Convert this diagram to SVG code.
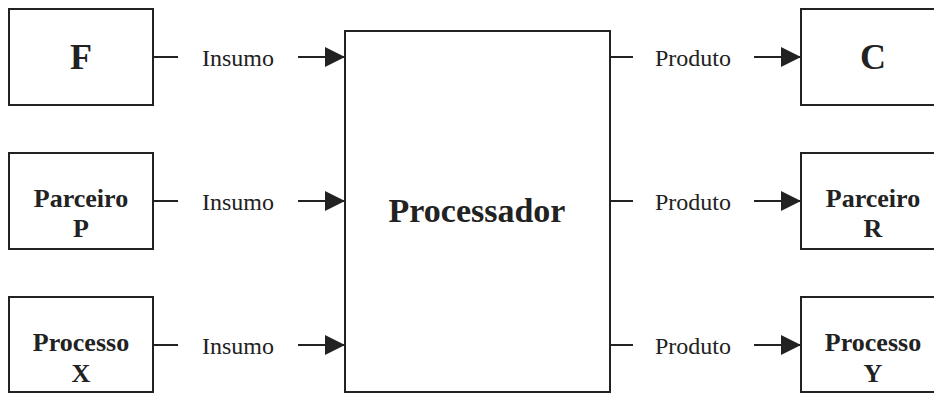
<svg xmlns="http://www.w3.org/2000/svg" width="934" height="393" viewBox="0 0 934 393">
<style>
.box{fill:#fff;stroke:#222;stroke-width:2}
.ln{stroke:#222;stroke-width:2;fill:none}
.lbl{font-family:"Liberation Serif",serif;font-size:24px;fill:#222;text-anchor:middle}
.nt{font-family:"Liberation Serif",serif;font-size:26px;font-weight:bold;fill:#222;text-anchor:middle}
.big{font-family:"Liberation Serif",serif;font-size:36px;font-weight:bold;fill:#222;text-anchor:middle}
</style>
<defs>
<marker id="ah" markerWidth="20" markerHeight="20" viewBox="0 0 20 20" refX="20" refY="10" markerUnits="userSpaceOnUse" orient="auto">
<path d="M0,0 L20,10 L0,20 Z" fill="#222"/>
</marker>
</defs>
<rect width="934" height="393" fill="#fff"/>
<g id="connectors">
<line class="ln" x1="153" y1="57" x2="178" y2="57"/>
<line class="ln" x1="298" y1="57" x2="345" y2="57" marker-end="url(#ah)"/>
<line class="ln" x1="153" y1="201" x2="178" y2="201"/>
<line class="ln" x1="298" y1="201" x2="345" y2="201" marker-end="url(#ah)"/>
<line class="ln" x1="153" y1="345" x2="178" y2="345"/>
<line class="ln" x1="298" y1="345" x2="345" y2="345" marker-end="url(#ah)"/>
<line class="ln" x1="610" y1="57" x2="633" y2="57"/>
<line class="ln" x1="754" y1="57" x2="801" y2="57" marker-end="url(#ah)"/>
<line class="ln" x1="610" y1="201" x2="633" y2="201"/>
<line class="ln" x1="754" y1="201" x2="801" y2="201" marker-end="url(#ah)"/>
<line class="ln" x1="610" y1="345" x2="633" y2="345"/>
<line class="ln" x1="754" y1="345" x2="801" y2="345" marker-end="url(#ah)"/>
<text class="lbl" x="238" y="66">Insumo</text>
<text class="lbl" x="238" y="210">Insumo</text>
<text class="lbl" x="238" y="354">Insumo</text>
<text class="lbl" x="693" y="66">Produto</text>
<text class="lbl" x="693" y="210">Produto</text>
<text class="lbl" x="693" y="354">Produto</text>
</g>
<g id="node-F">
<rect class="box" x="9" y="9" width="144" height="96"/>
<text class="big" x="81" y="69">F</text>
</g>
<g id="node-P">
<rect class="box" x="9" y="153" width="144" height="96"/>
<text class="nt" x="81" y="207">Parceiro</text>
<text class="nt" x="81" y="237">P</text>
</g>
<g id="node-X">
<rect class="box" x="9" y="297" width="144" height="95"/>
<text class="nt" x="81" y="351">Processo</text>
<text class="nt" x="81" y="382">X</text>
</g>
<g id="node-processador">
<rect class="box" x="345" y="31" width="265" height="361"/>
<text class="nt" x="477" y="222" style="font-size:34px">Processador</text>
</g>
<g id="node-C">
<rect class="box" x="801" y="9" width="144" height="96"/>
<text class="big" x="873" y="69">C</text>
</g>
<g id="node-R">
<rect class="box" x="801" y="153" width="144" height="96"/>
<text class="nt" x="873" y="207">Parceiro</text>
<text class="nt" x="873" y="237">R</text>
</g>
<g id="node-Y">
<rect class="box" x="801" y="297" width="144" height="95"/>
<text class="nt" x="873" y="351">Processo</text>
<text class="nt" x="873" y="382">Y</text>
</g>
</svg>
